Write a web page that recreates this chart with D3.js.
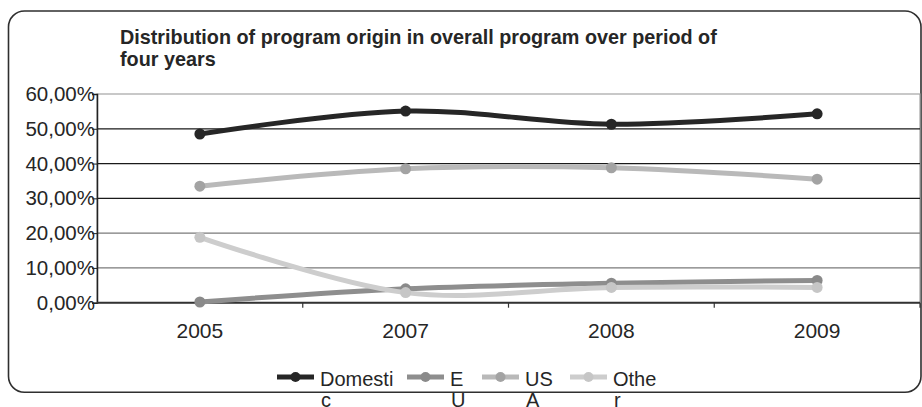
<!DOCTYPE html>
<html>
<head>
<meta charset="utf-8">
<script src="https://cdn.jsdelivr.net/npm/d3@7"></script>
<style>
  html, body { margin: 0; padding: 0; background: #fff; }
  svg { display: block; font-family: "Liberation Sans", Arial, sans-serif; }
</style>
</head>
<body>
<svg id="chart" width="922" height="407"></svg>
<script>
// Share of programs by origin, per year (percent)
const years = ["2005", "2007", "2008", "2009"];
const domestic = [48.5, 55.1, 51.3, 54.3];
const eu = [0.2, 4.0, 5.6, 6.4];
const usa = [33.5, 38.5, 38.8, 35.5];
const other = [18.8, 2.9, 4.4, 4.4];
const yTicks = [0, 10, 20, 30, 40, 50, 60];
const seriesNames = ["Domestic", "EU", "USA", "Other"];
const legendLines = [["Domesti", "c"], ["E", "U"], ["US", "A"], ["Othe", "r"]];

const series = [
  { name: seriesNames[0], values: domestic, line: "#262626", dot: "#262626" },
  { name: seriesNames[1], values: eu,       line: "#8e8e8e", dot: "#8a8a8a" },
  { name: seriesNames[2], values: usa,      line: "#b9b9b9", dot: "#a3a3a3" },
  { name: seriesNames[3], values: other,    line: "#cdcdcd", dot: "#c6c6c6" }
];

const svg = d3.select("#chart");
const plot = { left: 97, right: 920, top: 94, bottom: 302.7 };

// Outer rounded frame
const fx0 = 8.5, fy0 = 11, fx1 = 921, fy1 = 392.3, r = 16;
svg.append("rect")
  .attr("x", fx0).attr("y", fy0)
  .attr("width", fx1 - fx0).attr("height", fy1 - fy0)
  .attr("rx", r).attr("ry", r)
  .attr("fill", "none").attr("stroke", "#2f2f2f").attr("stroke-width", 1.6);

// Title
const title = svg.append("text")
  .attr("x", 120).attr("y", 44)
  .attr("font-size", 19.8).attr("font-weight", "bold").attr("fill", "#262626");
title.append("tspan").attr("x", 120).attr("dy", 0)
  .text("Distribution of program origin in overall program over period of");
title.append("tspan").attr("x", 120).attr("dy", 22).text("four years");

const x = d3.scaleBand().domain(years).range([plot.left, plot.right]).padding(0);
const y = d3.scaleLinear().domain([0, 60]).range([plot.bottom, plot.top]);
const cx = d => x(d) + x.bandwidth() / 2;

// Plot-area frame
svg.append("rect")
  .attr("x", plot.left).attr("y", plot.top)
  .attr("width", plot.right - plot.left).attr("height", plot.bottom - plot.top)
  .attr("fill", "none").attr("stroke", "#a4a4a4").attr("stroke-width", 1.2);

// Horizontal gridlines
svg.append("g").selectAll("line")
  .data(yTicks.filter(t => t > 0 && t < 60))
  .join("line")
  .attr("x1", plot.left).attr("x2", plot.right)
  .attr("y1", d => y(d)).attr("y2", d => y(d))
  .attr("stroke", d => d >= 30 ? "#1a1a1a" : "#7a7a7a")
  .attr("stroke-width", 1.2);

// Y axis
const fmt = v => d3.format(".2f")(v).replace(".", ",") + "%";
const yAxis = svg.append("g")
  .attr("transform", `translate(${plot.left},0)`)
  .call(d3.axisLeft(y).tickValues(yTicks).tickFormat(fmt).tickSize(5).tickPadding(0));
yAxis.select(".domain").attr("stroke", "#222").attr("stroke-width", 1.5);
yAxis.selectAll(".tick line").attr("stroke", "#222");
yAxis.selectAll(".tick text")
  .attr("font-size", 20.5).attr("fill", "#262626")
  .attr("font-family", "Liberation Sans, Arial, sans-serif")
  .attr("dx", 3);

// X axis with ticks at the category boundaries
const xAxis = svg.append("g")
  .attr("transform", `translate(0,${plot.bottom})`);
xAxis.append("line")
  .attr("x1", plot.left).attr("x2", plot.right)
  .attr("stroke", "#333").attr("stroke-width", 2);
xAxis.selectAll(".bt").data(years.slice(1).concat(["end"]))
  .join("line").attr("class", "bt")
  .attr("x1", (d, i) => plot.left + x.bandwidth() * (i + 1))
  .attr("x2", (d, i) => plot.left + x.bandwidth() * (i + 1))
  .attr("y1", 0).attr("y2", 5)
  .attr("stroke", "#333").attr("stroke-width", 1.2);
xAxis.selectAll(".lab").data(years)
  .join("text").attr("class", "lab")
  .attr("x", d => cx(d)).attr("y", 35)
  .attr("text-anchor", "middle")
  .attr("font-size", 21).attr("fill", "#262626")
  .text(d => d);

// Series lines (smoothed) and markers
const lineGen = d3.line()
  .x((d, i) => cx(years[i]))
  .y(d => y(d))
  .curve(d3.curveCardinal.tension(0));

const sg = svg.append("g");
series.forEach(s => {
  const g = sg.append("g");
  g.append("path")
    .attr("d", lineGen(s.values))
    .attr("fill", "none").attr("stroke", s.line)
    .attr("stroke-width", 5).attr("stroke-linecap", "round");
  g.selectAll("circle").data(s.values).join("circle")
    .attr("cx", (d, i) => cx(years[i]))
    .attr("cy", d => y(d))
    .attr("r", 5.5).attr("fill", s.dot);
});

// Legend
const legendX = [277, 407, 482, 570];
const leg = svg.append("g");
series.forEach((s, i) => {
  const g = leg.append("g").attr("transform", `translate(${legendX[i]},377)`);
  g.append("line").attr("x1", 0).attr("x2", 37).attr("y1", 0).attr("y2", 0)
    .attr("stroke", s.line).attr("stroke-width", 5);
  g.append("circle").attr("cx", 18.5).attr("cy", 0).attr("r", 5).attr("fill", s.dot);
  const t = g.append("text").attr("x", 43).attr("y", 9)
    .attr("font-size", 20).attr("fill", "#262626");
  t.append("tspan").attr("x", 43).attr("dy", 0).text(legendLines[i][0]);
  t.append("tspan").attr("x", 44).attr("dy", 21).text(legendLines[i][1]);
});
</script>
</body>
</html>
